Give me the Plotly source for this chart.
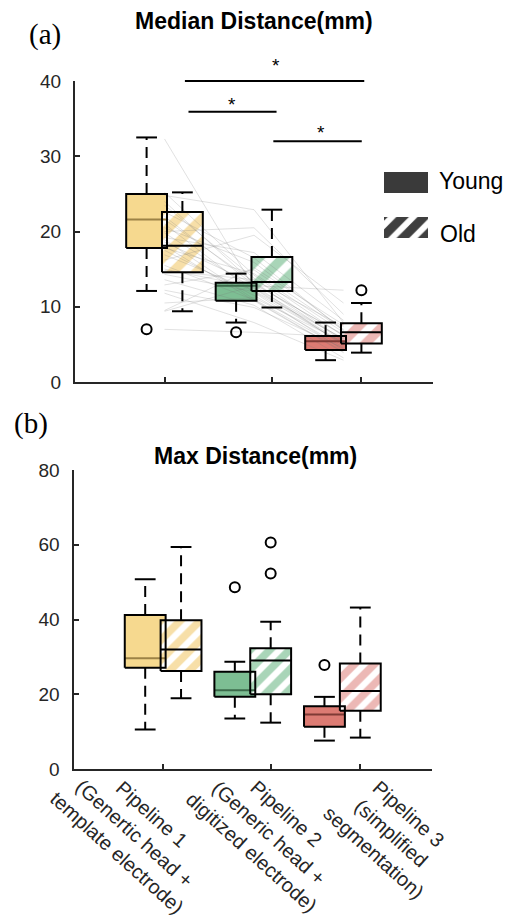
import plotly.graph_objects as go

# ---------------- data ----------------
x_labels = ["Pipeline 1<br>(Genertic head +<br>template electrode)",
            "Pipeline 2<br>(Generic head +<br>digitized electrode)",
            "Pipeline 3<br>(simplified<br>segmentation)"]
pos_young = [2.0, 4.5, 7.0]
pos_old = [3.0, 5.5, 8.0]
pos_pair = [2.5, 5.0, 7.5]
tick_pos = [2.5, 5.5, 8.0]

# Median distance (mm) - young
med_y_lo = [12.1, 7.9, 2.9]
med_y_q1 = [17.8, 10.8, 4.25]
med_y_md = [21.6, 12.8, 5.4]
med_y_q3 = [25.0, 13.2, 6.1]
med_y_hi = [32.5, 14.4, 7.9]
med_y_out = [[7.0], [6.6], []]
# Median distance (mm) - old
med_o_lo = [9.4, 9.9, 3.9]
med_o_q1 = [14.6, 12.1, 5.1]
med_o_md = [18.1, 13.3, 6.6]
med_o_q3 = [22.6, 16.6, 7.8]
med_o_hi = [25.2, 22.9, 10.5]
med_o_out = [[], [], [12.2]]

# Max distance (mm) - young
max_y_lo = [10.6, 13.5, 7.6]
max_y_q1 = [27.1, 19.3, 11.3]
max_y_md = [29.6, 21.1, 14.6]
max_y_q3 = [41.2, 26.0, 16.8]
max_y_hi = [50.8, 28.7, 19.3]
max_y_out = [[], [48.6], [27.8]]
# Max distance (mm) - old
max_o_lo = [18.9, 12.4, 8.4]
max_o_q1 = [26.2, 20.0, 15.6]
max_o_md = [32.0, 29.0, 20.9]
max_o_q3 = [39.8, 32.3, 28.2]
max_o_hi = [59.4, 39.4, 43.2]
max_o_out = [[], [60.6, 52.3], []]

# per-subject median distance across pipelines (paired grey lines)
subj_p1 = [32.3, 25.2, 24.8, 23.5, 22.6, 22.0, 21.6, 21.0, 20.5, 19.8, 19.2, 18.6, 18.1, 17.8, 17.5, 16.9,
           16.2, 15.5, 14.8, 14.3, 13.6, 12.9, 12.2, 11.8, 10.5, 9.5, 9.4, 7.0, 24.0, 20.0, 18.9, 15.0]
subj_p2 = [12.5, 14.2, 22.9, 13.8, 16.5, 12.9, 13.3, 11.9, 15.9, 12.4, 17.2, 13.0, 10.8, 14.4, 11.5, 12.1,
           19.5, 10.9, 13.6, 12.0, 10.2, 14.9, 9.9, 7.9, 11.2, 15.2, 12.8, 6.6, 13.1, 20.5, 11.0, 12.6]
subj_p3 = [5.2, 6.1, 7.9, 5.5, 6.8, 4.8, 5.4, 4.2, 7.0, 5.0, 8.2, 6.3, 3.9, 6.6, 4.6, 5.8,
           10.5, 4.0, 7.4, 5.1, 3.2, 6.9, 4.5, 2.9, 5.3, 7.6, 12.2, 6.0, 6.2, 9.0, 4.4, 5.7]

# significance brackets (top panel)
sig_x0 = [3.07, 3.17, 5.54]
sig_x1 = [8.08, 5.63, 8.01]
sig_y = [40.0, 35.9, 32.0]
sig_tx = [5.61, 4.39, 6.87]
sig_ty = [42.0, 36.9, 33.2]

# ---------------- style ----------------
fill_young = ["#F6D98F", "#7DBE93", "#DC7B73"]
hatch_old = ["#F7DFA8", "#A9D5B8", "#ECB8B5"]
median_young = ["#9C8246", "#3C6B4B", "#7E3A35"]
BW = 1.14
CW = 0.58
AX = "#262626"
FONT = "Liberation Sans, Arial, sans-serif"

fig = go.Figure()


def add_panel(xa, ya, yl, q1l, mdl, q3l, hil, outl, positions, young, hatch_size):
    for i, p in enumerate(positions):
        if young:
            marker = dict(color=fill_young[i], line=dict(width=0))
        else:
            marker = dict(color="white", line=dict(width=0),
                          pattern=dict(shape="/", fgcolor=hatch_old[i], bgcolor="white",
                                       size=hatch_size, solidity=0.55, fillmode="replace"))
        fig.add_trace(go.Bar(x=[p], y=[q3l[i] - q1l[i]], base=[q1l[i]], width=BW, marker=marker,
                             xaxis=xa, yaxis=ya, showlegend=False, hoverinfo="skip"))


def add_panel_lines(xa, ya, lol, q1l, mdl, q3l, hil, outl, positions, young):
    ox, oy = [], []
    wx, wy = [], []
    cx, cy = [], []
    px_, py_ = [], []
    for i, p in enumerate(positions):
        l, r = p - BW / 2, p + BW / 2
        ox += [l, r, r, l, l, None]
        oy += [q1l[i], q1l[i], q3l[i], q3l[i], q1l[i], None]
        wx += [p, p, None, p, p, None]
        wy += [q3l[i], hil[i], None, q1l[i], lol[i], None]
        cx += [p - CW / 2, p + CW / 2, None, p - CW / 2, p + CW / 2, None]
        cy += [hil[i], hil[i], None, lol[i], lol[i], None]
        for v in outl[i]:
            px_.append(p)
            py_.append(v)
        mcol = median_young[i] if young else "black"
        fig.add_trace(go.Scatter(x=[l, r], y=[mdl[i], mdl[i]], mode="lines",
                                 line=dict(color=mcol, width=2), xaxis=xa, yaxis=ya,
                                 showlegend=False, hoverinfo="skip"))
    fig.add_trace(go.Scatter(x=ox, y=oy, mode="lines", line=dict(color="black", width=2),
                             xaxis=xa, yaxis=ya, showlegend=False, hoverinfo="skip"))
    fig.add_trace(go.Scatter(x=wx, y=wy, mode="lines", line=dict(color="black", width=2, dash="11px,7px"),
                             xaxis=xa, yaxis=ya, showlegend=False, hoverinfo="skip"))
    fig.add_trace(go.Scatter(x=cx, y=cy, mode="lines", line=dict(color="black", width=2),
                             xaxis=xa, yaxis=ya, showlegend=False, hoverinfo="skip"))
    if px_:
        fig.add_trace(go.Scatter(x=px_, y=py_, mode="markers",
                                 marker=dict(symbol="circle-open", size=10, color="black",
                                             line=dict(width=2, color="black")),
                                 xaxis=xa, yaxis=ya, showlegend=False, hoverinfo="skip", cliponaxis=False))


add_panel("x", "y", med_y_lo, med_y_q1, med_y_md, med_y_q3, med_y_hi, med_y_out, pos_young, True, 17)
add_panel("x", "y", med_o_lo, med_o_q1, med_o_md, med_o_q3, med_o_hi, med_o_out, pos_old, False, 17)
add_panel("x2", "y2", max_y_lo, max_y_q1, max_y_md, max_y_q3, max_y_hi, max_y_out, pos_young, True, 14)
add_panel("x2", "y2", max_o_lo, max_o_q1, max_o_md, max_o_q3, max_o_hi, max_o_out, pos_old, False, 14)

# paired grey lines
gx, gy = [], []
for a, b, c in zip(subj_p1, subj_p2, subj_p3):
    gx += [pos_pair[0], pos_pair[1], pos_pair[2], None]
    gy += [a, b, c, None]
fig.add_trace(go.Scatter(x=gx, y=gy, mode="lines", line=dict(color="rgba(120,120,120,0.28)", width=0.8),
                         xaxis="x", yaxis="y", showlegend=False, hoverinfo="skip"))

add_panel_lines("x", "y", med_y_lo, med_y_q1, med_y_md, med_y_q3, med_y_hi, med_y_out, pos_young, True)
add_panel_lines("x", "y", med_o_lo, med_o_q1, med_o_md, med_o_q3, med_o_hi, med_o_out, pos_old, False)
add_panel_lines("x2", "y2", max_y_lo, max_y_q1, max_y_md, max_y_q3, max_y_hi, max_y_out, pos_young, True)
add_panel_lines("x2", "y2", max_o_lo, max_o_q1, max_o_md, max_o_q3, max_o_hi, max_o_out, pos_old, False)

# significance brackets (on an unclipped overlay scale identical to top y)
sx, sy = [], []
for a, b, c in zip(sig_x0, sig_x1, sig_y):
    sx += [a, b, None]
    sy += [c, c, None]
fig.add_trace(go.Scatter(x=sx, y=sy, mode="lines", line=dict(color="black", width=2),
                         xaxis="x", yaxis="y4", showlegend=False, hoverinfo="skip"))
for tx, ty in zip(sig_tx, sig_ty):
    fig.add_annotation(x=tx, y=ty, xref="x", yref="y4", text="*", showarrow=False,
                       font=dict(family=FONT, size=19, color="black"), xanchor="center", yanchor="middle")

# legend glyphs
fig.add_trace(go.Bar(x=[0.5], y=[21], base=[45], width=1, marker=dict(color="#3A3A3A", line=dict(width=0)),
                     xaxis="x3", yaxis="y3", showlegend=False, hoverinfo="skip"))
fig.add_trace(go.Bar(x=[0.5], y=[21], base=[0], width=1,
                     marker=dict(color="white", line=dict(width=0),
                                 pattern=dict(shape="/", fgcolor="#3F3F3F", bgcolor="white", size=15,
                                              solidity=0.6, fillmode="replace")),
                     xaxis="x3", yaxis="y3", showlegend=False, hoverinfo="skip"))

W, H = 510, 924
top_dom = [1 - 382 / H, 1 - 81 / H]
bot_dom = [1 - 769 / H, 1 - 470 / H]

axis_common = dict(showline=True, linecolor=AX, linewidth=2, ticks="inside", ticklen=5, tickwidth=1.5,
                   tickcolor=AX, showgrid=False, zeroline=False, fixedrange=True,
                   tickfont=dict(family=FONT, size=19, color=AX), automargin=False)

fig.update_layout(
    width=W, height=H, margin=dict(l=0, r=0, t=0, b=0),
    paper_bgcolor="white", plot_bgcolor="rgba(0,0,0,0)",
    barmode="overlay", showlegend=False, template="none",
    xaxis=dict(domain=[75 / W, 433 / W], range=[0, 10], anchor="y", tickvals=tick_pos,
               showticklabels=False, **axis_common),
    yaxis=dict(domain=top_dom, range=[0, 40], anchor="x", tickvals=[0, 10, 20, 30, 40],
               ticklabelstandoff=8, **axis_common),
    xaxis2=dict(domain=[73.5 / W, 432 / W], range=[0, 10], anchor="y2", tickvals=tick_pos,
                showticklabels=False, **axis_common),
    yaxis2=dict(domain=bot_dom, range=[0, 80], anchor="x2", tickvals=[0, 20, 40, 60, 80],
                ticklabelstandoff=8, **axis_common),
    xaxis3=dict(domain=[384 / W, 428 / W], range=[0, 1], anchor="y3", visible=False, fixedrange=True),
    yaxis3=dict(domain=[1 - 238 / H, 1 - 172 / H], range=[0, 66], anchor="x3", visible=False, fixedrange=True),
    yaxis4=dict(domain=[1 - 382 / H, 1 - 40 / H], range=[0, 342 / 7.525], anchor="x", visible=False,
                fixedrange=True),
)

# titles and panel letters
fig.add_annotation(x=253.5 / W, y=1 - 21 / H, xref="paper", yref="paper", text="<b>Median Distance(mm)</b>",
                   showarrow=False, font=dict(family=FONT, size=23, color="black"),
                   xanchor="center", yanchor="middle")
fig.add_annotation(x=255.5 / W, y=1 - 456 / H, xref="paper", yref="paper", text="<b>Max Distance(mm)</b>",
                   showarrow=False, font=dict(family=FONT, size=23, color="black"),
                   xanchor="center", yanchor="middle")
fig.add_annotation(x=45 / W, y=1 - 35 / H, xref="paper", yref="paper", text="(a)", showarrow=False,
                   font=dict(family="Liberation Serif, Times New Roman, serif", size=29, color="black"),
                   xanchor="center", yanchor="middle")
fig.add_annotation(x=31 / W, y=1 - 423 / H, xref="paper", yref="paper", text="(b)", showarrow=False,
                   font=dict(family="Liberation Serif, Times New Roman, serif", size=29, color="black"),
                   xanchor="center", yanchor="middle")

# legend text
fig.add_annotation(x=437 / W, y=1 - 181 / H, xref="paper", yref="paper", text="Young", showarrow=False,
                   font=dict(family=FONT, size=23, color="black"), xanchor="left", yanchor="middle")
fig.add_annotation(x=438 / W, y=1 - 234 / H, xref="paper", yref="paper", text="Old", showarrow=False,
                   font=dict(family=FONT, size=23, color="black"), xanchor="left", yanchor="middle")

# rotated x labels
label_cx = [134, 269, 391]
for lab, cxp in zip(x_labels, label_cx):
    fig.add_annotation(x=cxp / W, y=1 - 833 / H, xref="paper", yref="paper", text=lab, showarrow=False,
                       textangle=42, align="center",
                       font=dict(family=FONT, size=20, color=AX), xanchor="center", yanchor="middle")

fig.write_html("out.html")
